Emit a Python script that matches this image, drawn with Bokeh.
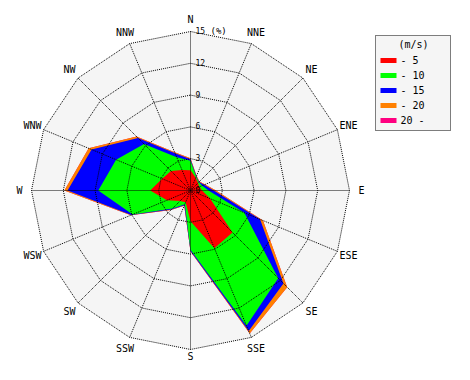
import numpy as np
from bokeh.plotting import figure
from bokeh.models import Range1d
from bokeh.core.properties import value
from bokeh.embed import file_html
from bokeh.resources import INLINE

# ---------------- data ----------------
directions = ["N", "NNE", "NE", "ENE", "E", "ESE", "SE", "SSE",
              "S", "SSW", "SW", "WSW", "W", "WNW", "NW", "NNW"]
speed_labels = ["- 5", "- 10", "- 15", "- 20", "20 -"]
speed_colors = ["#ff0000", "#00ff00", "#0000ff", "#ff8000", "#ff0080"]

# frequency (%) per direction for each speed class (m/s)
freq_0_5   = [1.9, 1.3, 1.0, 0.9, 1.1, 2.0, 5.6, 5.9, 2.9, 1.2, 1.4, 2.4, 3.8, 2.9, 2.6, 2.1]
freq_5_10  = [0.9, 0.1, 0.1, 0.3, 0.6, 3.5, 6.1, 7.9, 2.7, 0.2, 1.0, 3.5, 4.9, 4.7, 3.6, 1.3]
freq_10_15 = [0.15, 0.05, 0.05, 0.2, 0.5, 1.6, 0.7, 0.55, 0.1, 0.1, 0.15, 0.15, 2.9, 2.5, 0.8, 0.4]
freq_15_20 = [0.1, 0.05, 0.05, 0.1, 0.2, 0.3, 0.5, 0.25, 0.05, 0.05, 0.05, 0.05, 0.3, 0.3, 0.2, 0.1]
freq_20_up = [0.0, 0.0, 0.0, 0.0, 0.0, 0.0, 0.0, 0.0, 0.0, 0.0, 0.0, 0.0, 0.0, 0.0, 0.0, 0.0]

ring_values = [0, 3, 6, 9, 12, 15]
ring_labels = ["0", "3", "6", "9", "12", "15"]
unit_label = "(%)"
legend_title = "(m/s)"

# ---------------- geometry ----------------
PX = 10.6          # pixels per percent
R_MAX = 15

theta = np.deg2rad(np.arange(len(directions)) * 360.0 / len(directions))
sin_t, cos_t = np.sin(theta), np.cos(theta)
# label radius (px); the bottom label is pulled in slightly to stay inside
label_r = np.array([166.0 if d == "S" else 171.0 for d in directions])

FONT = value("DejaVu Sans Mono")

p = figure(width=454, height=364,
           x_range=Range1d(-190, 264), y_range=Range1d(-174, 190),
           x_axis_location=None, y_axis_location=None,
           toolbar_location=None, output_backend="svg",
           min_border=0, outline_line_color=None,
           background_fill_color="white", border_fill_color="white")
p.grid.visible = False

# gray disc (15 % polygon)
outer = R_MAX * PX
p.patch(list(outer * sin_t), list(outer * cos_t),
        fill_color="#f5f5f5", line_color=None)

# stacked rose polygons, largest first
classes = [freq_0_5, freq_5_10, freq_10_15, freq_15_20, freq_20_up]
cum = np.cumsum(np.array(classes), axis=0)
for k in range(len(classes) - 1, -1, -1):
    r = cum[k] * PX
    p.patch(list(r * sin_t), list(r * cos_t),
            fill_color=speed_colors[k], line_color=None)

# ring polygons
for rv in ring_values[1:]:
    rr = rv * PX
    xs = list(rr * sin_t) + [rr * sin_t[0]]
    ys = list(rr * cos_t) + [rr * cos_t[0]]
    p.line(xs, ys, line_color="black", line_width=1, line_dash="1 1")

# spokes
p.multi_line([[0, outer * s] for s in sin_t], [[0, outer * c] for c in cos_t],
             line_color="black", line_width=1, line_dash="1 1")

# direction labels
p.text(x=list(label_r * sin_t), y=list(label_r * cos_t), text=directions,
       text_font=FONT, text_font_size="10px", text_color="black",
       text_align="center", text_baseline="middle")

# ring labels
p.text(x=[5] * len(ring_values), y=[v * PX + 1 for v in ring_values],
       text=ring_labels, text_font=FONT, text_font_size="8px",
       text_color="black", text_align="left", text_baseline="alphabetic")
p.text(x=[20], y=[R_MAX * PX + 1], text=[unit_label], text_font=FONT,
       text_font_size="9px", text_color="black", text_align="left",
       text_baseline="alphabetic")

# legend
p.quad(left=[185], right=[260], top=[155], bottom=[60],
       fill_color="#f5f5f5", line_color="black", line_width=1, line_dash="1 1")
p.text(x=[223], y=[146], text=[legend_title], text_font=FONT,
       text_font_size="10px", text_color="black", text_align="center",
       text_baseline="middle")
ly = [130 - 15 * i for i in range(len(speed_labels))]
p.rect(x=[198] * len(speed_labels), y=ly, width=16, height=5,
       fill_color=speed_colors, line_color=None)
p.text(x=[210] * len(speed_labels), y=ly, text=speed_labels, text_font=FONT,
       text_font_size="10px", text_color="black", text_align="left",
       text_baseline="middle")

open("out.html", "w").write(file_html(p, INLINE))
